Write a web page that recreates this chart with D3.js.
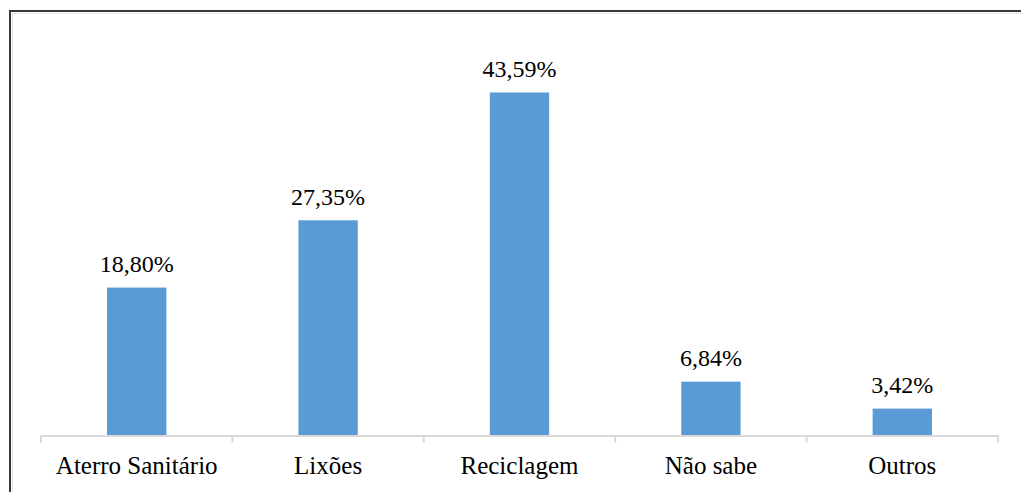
<!DOCTYPE html>
<html>
<head>
<meta charset="utf-8">
<script src="https://cdn.jsdelivr.net/npm/d3@7/dist/d3.min.js"></script>
<style>
  html, body { margin: 0; padding: 0; background: #fff; }
  svg { display: block; }
  text { font-family: "Liberation Serif", "Times New Roman", serif; fill: #000; }
</style>
</head>
<body>
<svg id="chart" width="1021" height="492"></svg>
<script>
const categories = ["Aterro Sanitário", "Lixões", "Reciclagem", "Não sabe", "Outros"];
const values = [18.80, 27.35, 43.59, 6.84, 3.42];
const valueLabels = ["18,80%", "27,35%", "43,59%", "6,84%", "3,42%"];

const svg = d3.select("#chart");

// outer frame (only top/left visible in the crop)
svg.append("rect")
  .attr("x", 10).attr("y", 11)
  .attr("width", 1200).attr("height", 1000)
  .attr("fill", "none").attr("stroke", "#3a3a3a").attr("stroke-width", 2);
svg.append("path")
  .attr("d", "M12,13.5H1021M12.5,13V492")
  .attr("stroke", "#e6e6e6").attr("stroke-width", 1).attr("fill", "none");

const x = d3.scaleBand().domain(categories).range([41, 998]).padding(0);
const y = d3.scaleLinear().domain([0, 50]).range([435.5, 435.5 - 50 * 7.869]);

const barW = x.bandwidth() * 0.31;

svg.append("g").selectAll("rect")
  .data(categories)
  .join("rect")
  .attr("x", d => x(d) + (x.bandwidth() - barW) / 2)
  .attr("y", (d, i) => y(values[i]))
  .attr("width", barW)
  .attr("height", (d, i) => y(0) - y(values[i]))
  .attr("fill", "#5b9bd5");

// x axis
const axis = d3.axisBottom(x).tickSize(0).tickFormat(d => d);
const gx = svg.append("g").attr("transform", `translate(0,${y(0)})`).call(axis);
gx.select(".domain").attr("stroke", "#d9d9d9").attr("stroke-width", 2);
gx.selectAll(".tick line").remove();
gx.selectAll(".tick text")
  .attr("y", 38.5).attr("dy", 0)
  .style("font-size", "25px")
  .style("font-family", "'Liberation Serif', 'Times New Roman', serif")
  .attr("fill", "#000");

// boundary ticks between categories
const bounds = categories.map(c => x(c)).concat([x.range()[1]]);
svg.append("g").selectAll("line")
  .data(bounds)
  .join("line")
  .attr("x1", d => d).attr("x2", d => d)
  .attr("y1", y(0)).attr("y2", y(0) + 7)
  .attr("stroke", "#d9d9d9").attr("stroke-width", 2);

// value labels
svg.append("g").selectAll("text")
  .data(categories)
  .join("text")
  .attr("x", d => x(d) + x.bandwidth() / 2)
  .attr("y", (d, i) => y(values[i]) - 15.5)
  .attr("text-anchor", "middle")
  .style("font-size", "24px")
  .text((d, i) => valueLabels[i]);
</script>
</body>
</html>
